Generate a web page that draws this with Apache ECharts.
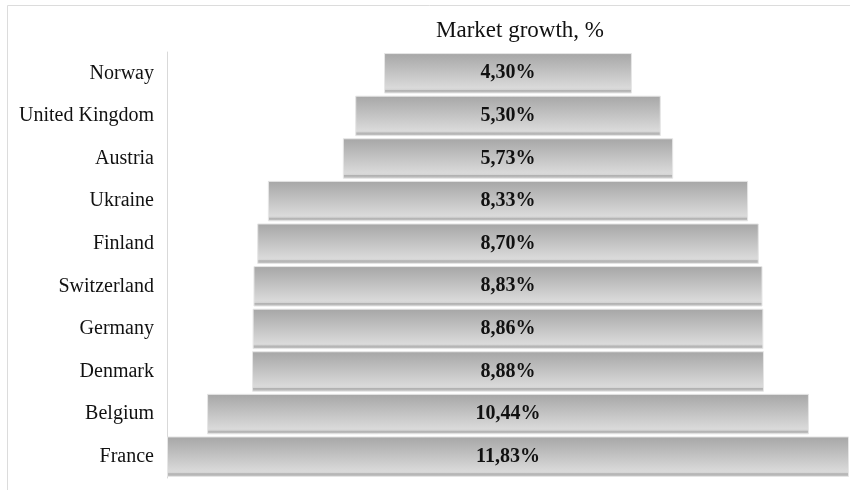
<!DOCTYPE html>
<html>
<head>
<meta charset="utf-8">
<script src="https://cdn.jsdelivr.net/npm/echarts@6/dist/echarts.min.js"></script>
<style>html,body{margin:0;padding:0;background:#fff}#c{width:850px;height:490px}</style>
</head>
<body>
<div id="c"></div>
<script>
const categories = ['Norway','United Kingdom','Austria','Ukraine','Finland','Switzerland','Germany','Denmark','Belgium','France'];
const values = [4.30, 5.30, 5.73, 8.33, 8.70, 8.83, 8.86, 8.88, 10.44, 11.83];
const title = 'Market growth, %';

const maxV = Math.max(...values);
const offsets = values.map(v => (maxV - v) / 2);
const fmt = v => v.toFixed(2).replace('.', ',') + '%';

const chart = echarts.init(document.getElementById('c'), null, {renderer: 'canvas'});
chart.setOption({
  animation: false,
  backgroundColor: '#fff',
  title: {
    text: title, left: 515, top: 14, textAlign: 'center',
    textStyle: {fontFamily: 'Liberation Serif', fontSize: 23, fontWeight: 'normal', color: '#111'}
  },
  graphic: [{
    type: 'rect', shape: {x: 7.5, y: 5.5, width: 900, height: 600},
    style: {fill: 'none', stroke: '#dcdcdc', lineWidth: 1}, silent: true, z: -1
  }],
  grid: {left: 167, right: 1, top: 52, bottom: 12, containLabel: false},
  xAxis: {type: 'value', min: 0, max: maxV, show: false},
  yAxis: {
    type: 'category', data: categories, inverse: true,
    axisLine: {show: true, lineStyle: {color: '#d9d9d9', width: 1}},
    axisTick: {show: false},
    axisLabel: {fontFamily: 'Liberation Serif', fontSize: 20, color: '#111', margin: 13}
  },
  series: [{
    type: 'bar', stack: 's', data: offsets, silent: true,
    itemStyle: {color: 'transparent'}, barCategoryGap: '5%'
  }, {
    type: 'bar', stack: 's', data: values, barCategoryGap: '5%',
    itemStyle: {
      color: new echarts.graphic.LinearGradient(0, 0, 0, 1, [
        {offset: 0, color: '#a6a6a6'},
        {offset: 0.86, color: '#dadada'},
        {offset: 0.9, color: '#d4d4d4'},
        {offset: 0.92, color: '#b2b2b2'},
        {offset: 1, color: '#c6c6c6'}
      ]),
      borderColor: '#e6e6e6', borderWidth: 1
    },
    label: {
      show: true, position: 'inside', formatter: p => fmt(p.value),
      fontFamily: 'Liberation Serif', fontSize: 20, fontWeight: 'bold', color: '#111'
    }
  }]
});
</script>
</body>
</html>
